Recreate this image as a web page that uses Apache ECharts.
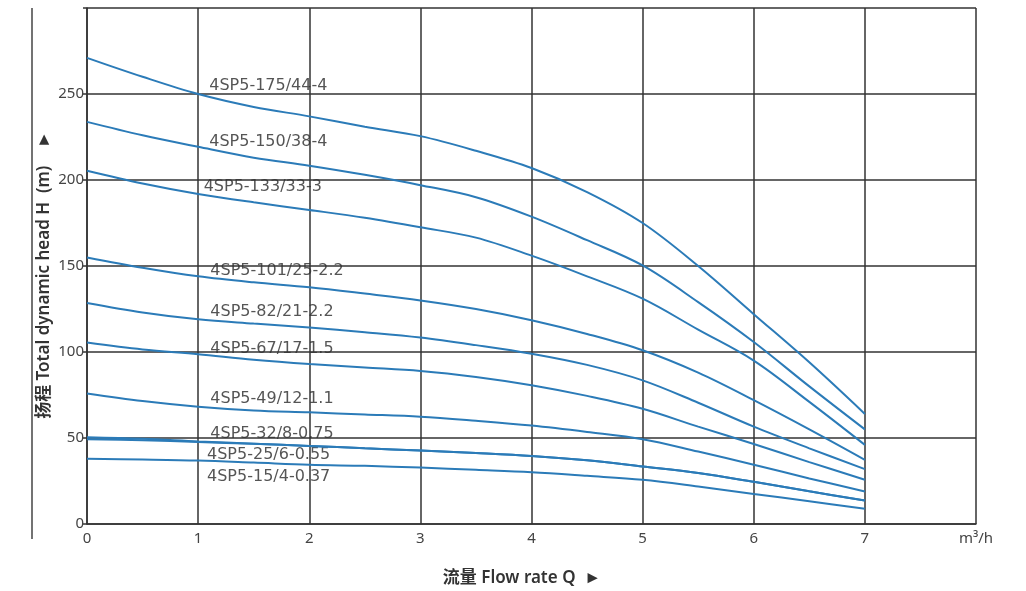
<!DOCTYPE html>
<html>
<head>
<meta charset="utf-8">
<script src="https://cdn.jsdelivr.net/npm/echarts@6/dist/echarts.min.js"></script>
<style>
html,body{margin:0;padding:0;background:#fff;}
#chart{width:1026px;height:591px;}
</style>
</head>
<body>
<div id="chart"></div>
<script>
// Flow rate Q (m³/h)
var flowQ = [0, 0.5, 1, 1.5, 2, 2.5, 3, 3.5, 4, 4.5, 5, 5.5, 6, 6.5, 7];
// Head H (m) per pump model
var pumpNames = ['4SP5-175/44-4','4SP5-150/38-4','4SP5-133/33-3','4SP5-101/25-2.2','4SP5-82/21-2.2','4SP5-67/17-1.5','4SP5-49/12-1.1','4SP5-32/8-0.75','4SP5-25/6-0.55','4SP5-15/4-0.37'];
var h175 = [271, 260, 250, 242.5, 237, 231, 225.5, 217, 207, 193, 175, 150, 122, 94, 64];
var h150 = [233.8, 226, 219.3, 213, 208.3, 203, 197, 190, 178.7, 165, 150.3, 129, 105.8, 80, 55];
var h133 = [205.4, 198, 191.9, 187, 182.6, 178, 172.5, 166.5, 156, 144, 131, 113, 95, 71, 46];
var h101 = [155, 149, 144, 140.5, 137.7, 134, 130, 125, 118.5, 110.5, 101, 88, 72, 55, 37.3];
var h82  = [128.5, 123, 119, 116.5, 114.2, 111.5, 108.4, 104, 99, 92.5, 83.5, 70.5, 56.6, 44, 31.9];
var h67  = [105.5, 101.5, 98.7, 95.5, 93, 91, 89, 85.5, 80.7, 74.5, 67, 56.6, 46.5, 36, 25.7];
var h49  = [75.9, 71.5, 68.2, 66, 64.9, 63.7, 62.4, 60, 57.2, 53.5, 49.3, 42.1, 34.5, 26.5, 18.9];
var h32  = [50.4, 49.5, 48, 46.7, 45.4, 44, 42.7, 41.3, 39.6, 37, 33.4, 29.6, 24.5, 19, 13.7];
var h25  = [49.3, 48.7, 47.7, 46.6, 45.4, 44, 42.7, 41.3, 39.6, 37, 33.4, 29.6, 24.5, 19, 13.7];
var h15  = [37.9, 37.5, 36.9, 35.7, 34.4, 33.8, 32.8, 31.5, 30.1, 28, 25.7, 21.8, 17.5, 13.2, 8.9];
var headSeries = [h175, h150, h133, h101, h82, h67, h49, h32, h25, h15];
// Label anchor points (Q, H) for model names
var labelQ = [1.1, 1.1, 1.05, 1.11, 1.11, 1.11, 1.11, 1.11, 1.08, 1.08];
var labelH = [254.6, 222.4, 196.1, 147, 123.2, 101.6, 72.6, 52.7, 40.2, 27.6];
// Axis ticks
var xTicks = [0, 1, 2, 3, 4, 5, 6, 7];
var yTicks = [0, 50, 100, 150, 200, 250];
var xUnit = 'm³/h';

var chart = echarts.init(document.getElementById('chart'), null, {renderer: 'canvas'});
var FONT = '"DejaVu Sans", "Noto Sans CJK SC", sans-serif';
var LINE_COLOR = '#2b7bb8';
var GRID_COLOR = '#333';

var series = headSeries.map(function (arr, i) {
  return {
    name: pumpNames[i],
    type: 'line',
    smooth: 0.35,
    showSymbol: false,
    z: 3,
    lineStyle: {color: LINE_COLOR, width: 2},
    data: flowQ.map(function (q, j) { return [q, arr[j]]; })
  };
});
series.push({
  type: 'scatter',
  symbolSize: 0,
  z: 1,
  silent: true,
  data: pumpNames.map(function (n, i) { return {value: [labelQ[i], labelH[i]], name: n}; }),
  label: {
    show: true,
    position: [0, 0],
    align: 'left',
    verticalAlign: 'middle',
    formatter: function (p) { return p.name; },
    color: '#2a2a2a',
    fontFamily: FONT,
    fontSize: 16,
    fontWeight: 'normal'
  }
});

chart.setOption({
  animation: false,
  backgroundColor: '#fff',
  grid: {left: 87, right: 50, top: 8, bottom: 67, containLabel: false},
  xAxis: {
    type: 'value', min: 0, max: 8, interval: 1, z: 2,
    axisLine: {show: true, lineStyle: {color: GRID_COLOR, width: 1.5}},
    axisTick: {show: false},
    splitLine: {show: true, lineStyle: {color: GRID_COLOR, width: 1.5}},
    axisLabel: {
      color: '#444', fontSize: 15, fontFamily: '"Noto Sans", sans-serif', margin: 7,
      formatter: function (v) { return v === 8 ? xUnit : (xTicks.indexOf(v) >= 0 ? String(v) : ''); }
    }
  },
  yAxis: {
    type: 'value', min: 0, max: 300, interval: 50, z: 2,
    axisLine: {show: true, lineStyle: {color: GRID_COLOR, width: 1.5}},
    axisTick: {show: true, length: 4, lineStyle: {color: GRID_COLOR, width: 1.5}},
    splitLine: {show: true, lineStyle: {color: GRID_COLOR, width: 1.5}},
    axisLabel: {
      color: '#444', fontSize: 15, fontFamily: '"Noto Sans", sans-serif', margin: 3,
      formatter: function (v) { return yTicks.indexOf(v) >= 0 ? String(v) : ''; }
    }
  },
  graphic: [
    {type: 'line', shape: {x1: 32, y1: 8, x2: 32, y2: 539}, style: {stroke: '#444', lineWidth: 1.5}},
    {type: 'text', x: 44, y: 275, rotation: Math.PI / 2,
     style: {text: '扬程 Total dynamic head H  (m)    ►', textAlign: 'center', textVerticalAlign: 'middle',
             fill: '#333', font: '600 17px "Noto Sans", "Noto Sans CJK SC", sans-serif'}},
    {type: 'text', x: 522, y: 578,
     style: {text: '流量 Flow rate Q  ►', textAlign: 'center', textVerticalAlign: 'middle',
             fill: '#333', font: '600 17px "Noto Sans", "Noto Sans CJK SC", sans-serif'}}
  ],
  series: series
});
</script>
</body>
</html>
